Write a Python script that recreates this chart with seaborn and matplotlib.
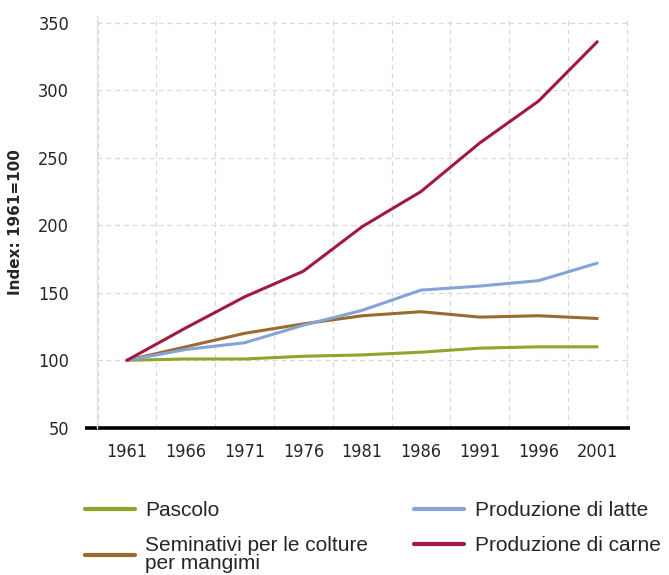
import matplotlib
matplotlib.use("Agg")
import matplotlib.pyplot as plt
import seaborn as sb
import pandas as pd

years = [1961, 1966, 1971, 1976, 1981, 1986, 1991, 1996, 2001]
pascolo = [100, 101, 101, 103, 104, 106, 109, 110, 110]
seminativi = [100, 110, 120, 127, 133, 136, 132, 133, 131]
latte = [100, 108, 113, 126, 137, 152, 155, 159, 172]
carne = [100, 124, 147, 166, 199, 225, 261, 292, 336]

labels = ["Pascolo", "Seminativi per le colture\nper mangimi",
          "Produzione di latte", "Produzione di carne"]
colors = ["#8fa52c", "#9a6a2e", "#85a3d6", "#a3183f"]
y_ticks = [50, 100, 150, 200, 250, 300, 350]

df = pd.concat([
    pd.DataFrame({"anno": years, "indice": vals, "serie": lab})
    for vals, lab in zip([pascolo, seminativi, latte, carne], labels)
])

sb.set_style("white")
plt.rcParams["font.family"] = ["DejaVu Sans"]

fig = plt.figure(figsize=(6.69, 5.75), dpi=100)
ax = fig.add_axes([0.145, 0.256, 0.797, 0.716])

sb.lineplot(data=df, x="anno", y="indice", hue="serie", hue_order=labels,
            palette=dict(zip(labels, colors)), linewidth=2.2, ax=ax, legend=False)

ax.set_xlim(1958.45, 2003.8)
ax.set_ylim(50, 355)
ax.set_xticks(years)
ax.set_xticks([y + 2.5 for y in [1956] + years], minor=True)
ax.set_yticks(y_ticks)
ax.grid(axis="x", which="minor", color="#d8d8d8", linestyle=(0, (4, 3)), linewidth=0.9)
ax.grid(axis="y", which="major", color="#d8d8d8", linestyle=(0, (4, 3)), linewidth=0.9)
ax.tick_params(which="both", length=0)
ax.tick_params(axis="y", pad=20, labelsize=13)
ax.tick_params(axis="x", pad=11, labelsize=13)
for t in ax.get_xticklabels() + ax.get_yticklabels():
    t.set_fontstretch("condensed")
ax.set_xlabel("")
ax.set_ylabel("Index: 1961=100", fontsize=11, fontweight="bold", labelpad=11)

for s in ["top", "right", "bottom"]:
    ax.spines[s].set_visible(False)
ax.spines["left"].set_color("#e2e2e2")
ax.spines["left"].set_linewidth(1.0)
ax.plot([-0.022, 1.0], [0, 0], transform=ax.transAxes, color="black",
        linewidth=2.6, clip_on=False, solid_capstyle="butt")

handles = [plt.Line2D([], [], color=c, linewidth=3) for c in colors]
leg = fig.legend(handles, labels, loc="upper left", bbox_to_anchor=(0.127, 0.129),
                 ncol=2, frameon=False, handlelength=2.4,
                 handletextpad=0.5, columnspacing=2.2, labelspacing=0.77,
                 borderpad=0, borderaxespad=0,
                 prop={"family": "Liberation Sans", "size": 15})
for t in leg.get_texts():
    t.set_linespacing(0.95)

fig.savefig("out.png", dpi=100)
